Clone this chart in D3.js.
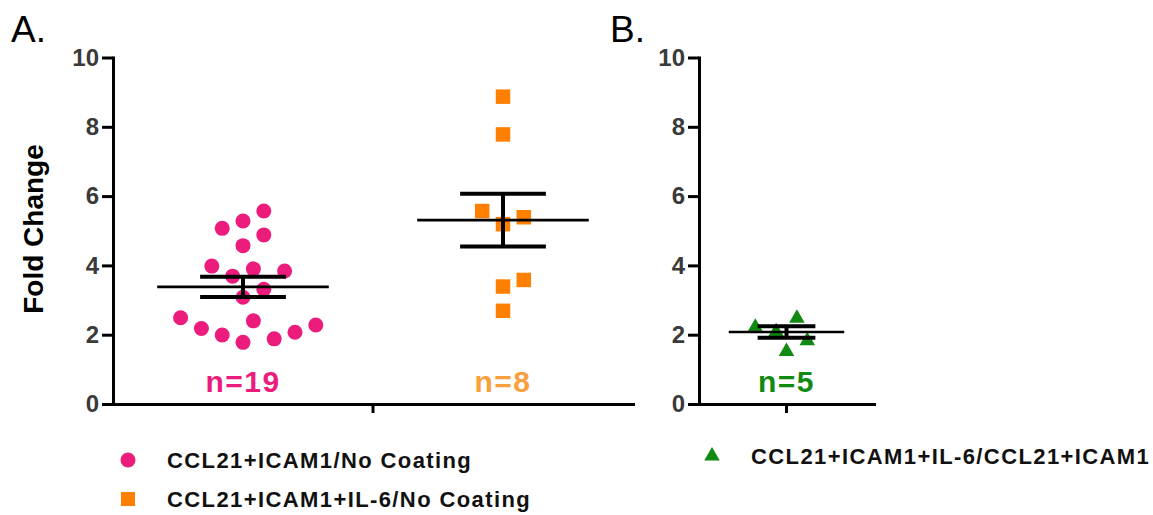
<!DOCTYPE html>
<html>
<head>
<meta charset="utf-8">
<script src="https://cdn.jsdelivr.net/npm/d3@7"></script>
<style>
  body { margin: 0; background: #fff; }
  svg { display: block; font-family: "Liberation Sans", Arial, sans-serif; }
</style>
</head>
<body>
<svg id="chart" width="1153" height="515"></svg>
<script>
'use strict'

// fold change values
var pinkValues = [5.57, 5.07, 5.28, 4.88, 4.57, 3.98, 3.84, 3.69, 3.90, 3.31,
                  3.08, 2.49, 2.40, 2.28, 2.18, 2.07, 1.99, 1.88, 1.78];
var orangeValues = [8.87, 7.78, 5.57, 5.39, 5.19, 3.58, 3.39, 2.69];
var greenValues = [2.53, 2.27, 2.14, 1.88, 1.57];

var groupsA = ["CCL21+ICAM1/No Coating", "CCL21+ICAM1+IL-6/No Coating"];
var groupsB = ["CCL21+ICAM1+IL-6/CCL21+ICAM1"];
var yTicks = [0, 2, 4, 6, 8, 10];

var pink = "#EC1C7C", orange = "#FF8000", orangeText = "#F9A03E", green = "#108A10";

var svg = d3.select("#chart");

var y = d3.scaleLinear().domain([0, 10]).range([404, 57.5]);

// mean and standard error of the mean
function stats(vals) {
    var m = d3.mean(vals);
    var sem = d3.deviation(vals) / Math.sqrt(vals.length);
    return { mean: m, sem: sem };
}

// simple greedy beeswarm: columns on a fixed grid, lowest values first
function swarm(vals, slot, minDist) {
    var order = vals.map((v, i) => i).sort((a, b) => vals[a] - vals[b]);
    var placed = [];
    var offs = new Array(vals.length);
    order.forEach(function (i) {
        var py = y(vals[i]);
        for (var k = 0; k < 40; k++) {
            var s = k === 0 ? 0 : (k % 2 === 1 ? (k + 1) / 2 : -k / 2);
            var px = s * slot;
            var ok = placed.every(p => Math.hypot(p.x - px, p.y - py) >= minDist);
            if (ok) {
                placed.push({ x: px, y: py });
                offs[i] = px;
                break;
            }
        }
    });
    return offs;
}

function drawAxes(g, x0, x1) {
    var yAxis = g.append("g")
        .attr("transform", `translate(${x0},0)`)
        .call(d3.axisLeft(y).tickValues(yTicks).tickSize(11).tickSizeOuter(0).tickPadding(3));
    var band = d3.scaleBand().domain(["all"]).range([x0, x1]);
    var xAxis = g.append("g")
        .attr("transform", `translate(0,${y(0)})`)
        .call(d3.axisBottom(band).tickSize(9).tickSizeOuter(0).tickFormat(""));
    [yAxis, xAxis].forEach(function (a) {
        a.select(".domain").attr("stroke", "#000").attr("stroke-width", 3).attr("stroke-linecap", "square");
        a.selectAll(".tick line").attr("stroke", "#000").attr("stroke-width", 3);
    });
    yAxis.selectAll(".tick text")
        .attr("font-size", 24).attr("font-weight", "bold").attr("fill", "#3a3a3a")
        .attr("font-family", "Liberation Sans, Arial, sans-serif");
}

function symbolPath(type, size) {
    return d3.symbol().type(type).size(size)();
}

function drawGroup(g, vals, cx, step, color, shape, size, slot, minDist, nColor) {
    var offs = swarm(vals, slot, minDist);
    g.append("g").selectAll("path")
        .data(vals)
        .enter().append("path")
        .attr("d", symbolPath(shape, size))
        .attr("transform", (d, i) => `translate(${cx + offs[i]},${y(d) + (shape === d3.symbolTriangle ? 2 : 0)})`)
        .attr("fill", color);

    var s = stats(vals);
    var eb = g.append("g").attr("stroke", "#000");
    eb.append("line")
        .attr("x1", cx - step * 0.33).attr("x2", cx + step * 0.33)
        .attr("y1", y(s.mean)).attr("y2", y(s.mean))
        .attr("stroke-width", 2.6);
    eb.append("line")
        .attr("x1", cx).attr("x2", cx)
        .attr("y1", y(s.mean + s.sem)).attr("y2", y(s.mean - s.sem))
        .attr("stroke-width", 4);
    [s.mean + s.sem, s.mean - s.sem].forEach(function (v) {
        eb.append("line")
            .attr("x1", cx - step * 0.165).attr("x2", cx + step * 0.165)
            .attr("y1", y(v)).attr("y2", y(v))
            .attr("stroke-width", 4);
    });

    g.append("text")
        .attr("x", cx).attr("y", 392)
        .attr("text-anchor", "middle")
        .attr("font-size", 30).attr("font-weight", "bold")
        .attr("letter-spacing", 1.5)
        .attr("fill", nColor)
        .text("n=" + vals.length);
}

// ---- panel A
var gA = svg.append("g");
var xA = d3.scalePoint().domain(groupsA).range([113, 633]).padding(0.5);
drawAxes(gA, 113, 633);
drawGroup(gA, pinkValues, xA(groupsA[0]), xA.step(), pink, d3.symbolCircle, Math.PI * 7.5 * 7.5, 10.4, 21.5, pink);
drawGroup(gA, orangeValues, xA(groupsA[1]), xA.step(), orange, d3.symbolSquare, 14.5 * 14.5, 10.4, 20, orangeText);

// ---- panel B
var gB = svg.append("g");
var xB = d3.scalePoint().domain(groupsB).range([699, 874]).padding(0.5);
drawAxes(gB, 699, 874);
drawGroup(gB, greenValues, xB(groupsB[0]), xB.step(), green, d3.symbolTriangle, 105, 10.4, 20.5, green);

// y axis title and panel letters
svg.append("text")
    .attr("transform", "translate(43,229) rotate(-90)")
    .attr("text-anchor", "middle")
    .attr("font-size", 28).attr("font-weight", "bold")
    .text("Fold Change");

svg.append("text").attr("x", 11).attr("y", 42).attr("font-size", 37).text("A.");
svg.append("text").attr("x", 610).attr("y", 42).attr("font-size", 37).text("B.");

// legends
var legendItems = [
    { label: groupsA[0], shape: d3.symbolCircle, size: Math.PI * 7.5 * 7.5, color: pink, x: 128, y: 460 },
    { label: groupsA[1], shape: d3.symbolSquare, size: 14 * 14, color: orange, x: 128, y: 499 },
    { label: groupsB[0], shape: d3.symbolTriangle, size: 105, color: green, x: 712, y: 456 }
];
var leg = svg.append("g").selectAll("g")
    .data(legendItems)
    .enter().append("g")
    .attr("transform", d => `translate(${d.x},${d.y})`);
leg.append("path")
    .attr("d", d => symbolPath(d.shape, d.size))
    .attr("fill", d => d.color);
leg.append("text")
    .attr("x", 39).attr("y", 7.5)
    .attr("font-size", 22).attr("font-weight", "bold")
    .attr("letter-spacing", 1.4)
    .attr("fill", "#111")
    .text(d => d.label);
</script>
</body>
</html>
